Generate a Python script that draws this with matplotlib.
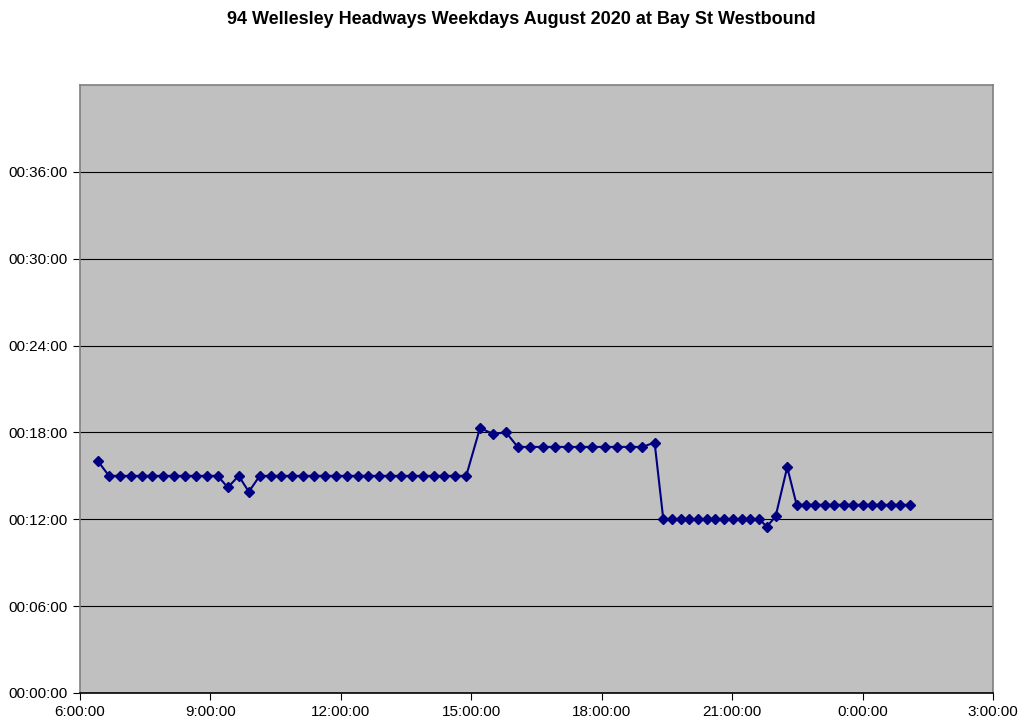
import matplotlib
matplotlib.use('Agg')
import matplotlib.pyplot as plt
from matplotlib.ticker import FuncFormatter, MultipleLocator

plt.rcParams['font.family'] = ['Liberation Sans', 'DejaVu Sans']

# departure time (clock) and headway in minutes
times = ['6:25', '6:40', '6:55', '7:10', '7:25', '7:40', '7:55', '8:10', '8:25', '8:40',
         '8:55', '9:10', '9:24', '9:39', '9:53', '10:08', '10:23', '10:38', '10:53', '11:08',
         '11:23', '11:38', '11:53', '12:08', '12:23', '12:38', '12:53', '13:08', '13:23', '13:38',
         '13:53', '14:08', '14:23', '14:38', '14:53', '15:12', '15:30', '15:48', '16:04', '16:21',
         '16:39', '16:56', '17:13', '17:30', '17:47', '18:04', '18:21', '18:39', '18:56', '19:13',
         '19:25', '19:37', '19:49', '20:01', '20:13', '20:25', '20:37', '20:49', '21:01', '21:13',
         '21:25', '21:37', '21:48', '22:00', '22:16', '22:29', '22:42', '22:55', '23:08', '23:21',
         '23:34', '23:47', '0:00', '0:13', '0:26', '0:39', '0:52', '1:05']
headways = [16.0, 15, 15, 15, 15, 15, 15, 15, 15, 15,
            15, 15, 14.2, 15, 13.9, 15, 15, 15, 15, 15,
            15, 15, 15, 15, 15, 15, 15, 15, 15, 15,
            15, 15, 15, 15, 15, 18.3, 17.9, 18.0, 17, 17,
            17, 17, 17, 17, 17, 17, 17, 17, 17, 17.3,
            12, 12, 12, 12, 12, 12, 12, 12, 12, 12,
            12, 12, 11.5, 12.2, 15.6, 13, 13, 13, 13, 13,
            13, 13, 13, 13, 13, 13, 13, 13]

def to_hours(t):
    h, m = t.split(':')
    h = int(h)
    if h < 6:
        h += 24
    return h + int(m) / 60.0

x = [to_hours(t) for t in times]

fig = plt.figure(figsize=(10.24, 7.27), dpi=100)
ax = fig.add_axes([80 / 1024, 1 - 693 / 727, 913 / 1024, 608 / 727])
ax.set_facecolor('#C0C0C0')

ax.plot(x, headways, color='#000080', lw=1.5, marker='D', markersize=5, zorder=3)

ax.set_xlim(6, 27)
ax.set_ylim(0, 42)
ax.xaxis.set_major_locator(MultipleLocator(3))
ax.set_yticks([0, 6, 12, 18, 24, 30, 36])
ax.xaxis.set_major_formatter(FuncFormatter(lambda v, p: '%d:00:00' % (int(round(v)) % 24)))
ax.yaxis.set_major_formatter(FuncFormatter(lambda v, p: '00:%02d:00' % int(round(v))))
ax.grid(axis='y', color='black', lw=0.8)
ax.set_axisbelow(True)

for side in ['left', 'top', 'right']:
    ax.spines[side].set_color('#808080')
    ax.spines[side].set_linewidth(1.2)
ax.spines['bottom'].set_color('black')
ax.spines['bottom'].set_linewidth(1.2)

ax.tick_params(axis='both', labelsize=11, length=5, width=0.8, color='black')
ax.tick_params(axis='y', pad=4)

fig.text(521 / 1024, 1 - 20 / 727, '94 Wellesley Headways Weekdays August 2020 at Bay St Westbound',
         ha='center', va='center', fontsize=13, fontweight='bold')

fig.savefig('out.png', dpi=100)
